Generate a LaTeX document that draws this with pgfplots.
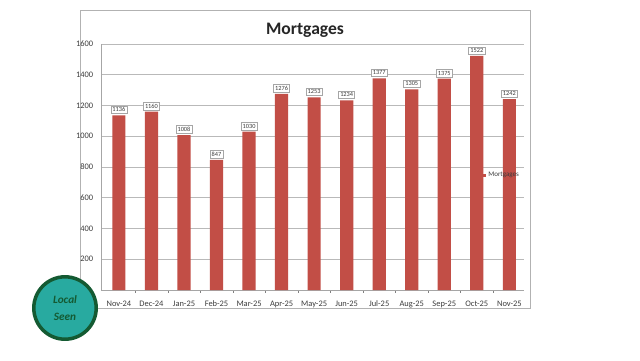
\documentclass[border=0pt]{standalone}
\usepackage{pgfplots}
\pgfplotsset{compat=1.18}
\usepackage{fontspec}
\setmainfont{Carlito}
\definecolor{barred}{RGB}{194,78,70}
\definecolor{txt}{RGB}{60,60,60}
\definecolor{logoteal}{RGB}{40,170,160}
\definecolor{logogreen}{RGB}{20,90,50}
\begin{document}
\begin{tikzpicture}
\path[fill=white] (0,0) rectangle (16,9);
% panel border
\draw[gray!60, line width=0.6pt] (2.0,1.3) rectangle (13.25,8.75);
\node[font=\bfseries\fontsize{12.5}{14}\selectfont, text=black!85] at (7.625,8.25) {Mortgages};
\begin{axis}[
  scale only axis,
  width=10.575cm, height=6.15cm,
  at={(2.525cm,1.75cm)}, anchor=south west,
  ybar, bar width=0.33cm,
  ymin=0, ymax=1600, ytick={200,400,...,1600},
  xmin=-0.55, xmax=12.45,
  xtick={0,...,12},
  xticklabels={Nov-24,Dec-24,Jan-25,Feb-25,Mar-25,Apr-25,May-25,Jun-25,Jul-25,Aug-25,Sep-25,Oct-25,Nov-25},
  minor xtick={0.5,1.5,...,11.5},
  major x tick style={draw=none},
  minor tick length=2pt,
  axis lines*=left,
  axis line style={gray!70},
  ytick style={draw=none},
  ymajorgrids, grid style={gray!55, line width=0.6pt},
  tick label style={font=\fontsize{6}{7}\selectfont, text=txt},
  /pgf/number format/assume math mode=true,
  /pgf/number format/1000 sep={},
  yticklabel style={xshift=-2pt},
  nodes near coords,
  every node near coord/.append style={font=\fontsize{4.5}{5}\selectfont, draw=gray!70, fill=white, inner sep=1.2pt, text=txt, yshift=1pt},
  legend style={draw=none, fill=none, at={(0.948,0.467)}, anchor=center, font=\fontsize{5}{6}\selectfont, text=txt, inner sep=0pt},
  legend image code/.code={\fill[barred] (0,-0.04cm) rectangle (0.08cm,0.04cm);},
]
\addplot[fill=barred, draw=none] coordinates {
(0,1136) (1,1160) (2,1008) (3,847) (4,1030) (5,1276) (6,1253) (7,1234) (8,1377) (9,1305) (10,1375) (11,1522) (12,1242)
};
\legend{Mortgages}
\end{axis}
% station logo
\fill[logoteal] (1.625,1.3) circle (0.8);
\draw[logogreen, line width=2.5pt] (1.625,1.3) circle (0.78);
\node[font=\bfseries\itshape\fontsize{8}{8}\selectfont, text=logogreen] at (1.625,1.52) {Local};
\node[font=\bfseries\itshape\fontsize{8}{8}\selectfont, text=logogreen] at (1.625,1.08) {Seen};
\end{tikzpicture}
\end{document}
